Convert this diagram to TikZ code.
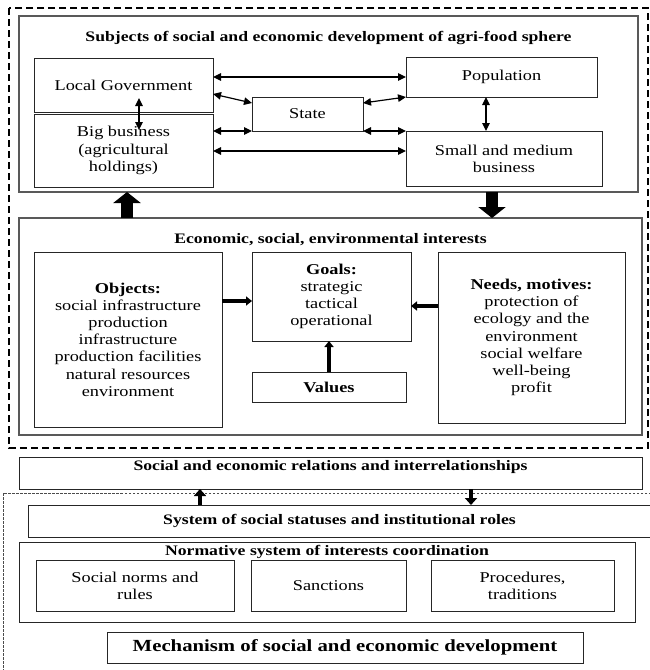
\documentclass[tikz,border=0pt]{standalone}
\usepackage{fontspec}
\setmainfont{Liberation Serif}[FakeStretch=1.22]
\usetikzlibrary{arrows.meta}
\begin{document}
\begin{tikzpicture}[x=1pt,y=-1pt,
  box/.style={draw=black!85, line width=0.9pt, rectangle, inner sep=0pt, outer sep=0pt,
    align=center, font=\fontsize{15}{17.2}\selectfont},
  frame/.style={draw=black!65, line width=1.1pt, rectangle, inner sep=0pt, outer sep=0pt},
  ttl/.style={inner sep=0pt, font=\fontsize{14.5}{17}\selectfont\bfseries},
  dbl/.style={{Triangle[length=8pt,width=7.5pt]}-{Triangle[length=8pt,width=7.5pt]}, line width=1.2pt},
  thickarr/.style={-{Triangle[length=6pt,width=9pt]}, line width=3.5pt},
  midarr/.style={-{Triangle[length=7pt,width=12pt]}, line width=4.5pt},
  blockarr/.style={-{Triangle[length=11pt,width=27pt]}, line width=12pt},
  outerdash/.style={draw=black, line width=1.6pt, dash pattern=on 7pt off 4pt},
  thindash/.style={draw=black!70, line width=0.6pt, dash pattern=on 2.5pt off 1.5pt}
]
\useasboundingbox (0,0) rectangle (650,670);
\clip (0,0) rectangle (650,670);

% outer dashed boundaries
\draw[outerdash] (9,8) rectangle (648,448);
\draw[thindash] (3,493) rectangle (664,684);

% upper block: subjects
\node[frame, minimum width=619pt, minimum height=176pt] (sub) at (328.5,104) {};
\node[ttl] (subt) at (328.5,38) {Subjects of social and economic development of agri-food sphere};
\node[box, minimum width=179pt, minimum height=54pt] (lg) at (123.5,85) {Local Government};
\node[box, minimum width=179pt, minimum height=73pt] (bb) at (123.5,150.5) {Big business\\(agricultural\\holdings)};
\node[box, minimum width=111pt, minimum height=34pt] (state) at (307.5,114) {State};
\node[box, minimum width=191pt, minimum height=40pt] (pop) at (501.5,77) {Population};
\node[box, minimum width=196pt, minimum height=55pt] (smb) at (504,158.5) {Small and medium\\business};

% interests block
\node[frame, minimum width=623pt, minimum height=217pt] (int) at (330.5,326.5) {};
\node[ttl] (intt) at (330.5,240) {Economic, social, environmental interests};
\node[box, minimum width=188pt, minimum height=175pt] (obj) at (128,339.5)
  {\textbf{Objects:}\\social infrastructure\\production\\infrastructure\\production facilities\\natural resources\\environment};
\node[box, minimum width=159pt, minimum height=89pt] (goals) at (331.5,296.5)
  {\textbf{Goals:}\\strategic\\tactical\\operational};
\node[box, minimum width=154pt, minimum height=30pt] (values) at (329,387) {\textbf{Values}};
\node[box, minimum width=187pt, minimum height=171pt] (needs) at (531.5,337.5)
  {\textbf{Needs, motives:}\\protection of\\ecology and the\\environment\\social welfare\\well-being\\profit};

% relations and mechanism
\node[box, minimum width=623pt, minimum height=32pt] (rel) at (330.5,473) {};
\node[ttl] (relt) at (330.5,467) {Social and economic relations and interrelationships};
\node[box, minimum width=623pt, minimum height=32pt] (stat) at (339.5,521) {};
\node[ttl] (statt) at (339.5,521) {System of social statuses and institutional roles};
\node[box, minimum width=616pt, minimum height=80pt] (norm) at (327,582) {};
\node[ttl] (normt) at (327,552) {Normative system of interests coordination};
\node[box, minimum width=198pt, minimum height=51pt] (snr) at (135,585.5) {Social norms and\\rules};
\node[box, minimum width=155pt, minimum height=51pt] (sanc) at (328.5,585.5) {Sanctions};
\node[box, minimum width=183pt, minimum height=51pt] (proc) at (522.5,585.5) {Procedures,\\traditions};
\node[box, minimum width=476pt, minimum height=31pt, font=\fontsize{17}{19}\selectfont\bfseries] (mech) at (345,647.5)
  {Mechanism of social and economic development};

% reference rows and columns for connectors
\coordinate (r77) at (0,77);
\coordinate (r94) at (0,94);
\coordinate (r103) at (0,103);
\coordinate (r151) at (0,151);
\coordinate (r301) at (0,301);
\coordinate (r306) at (0,306);
\coordinate (c127) at (127,0);
\coordinate (c492) at (492,0);
\coordinate (c486) at (486,0);
\coordinate (c200) at (200,0);
\coordinate (c471) at (471,0);
\coordinate (lgv1) at (139,98);
\coordinate (lgv2) at (139,130);

% links between subjects
\draw[dbl] (lg.east |- r77) -- (pop.west |- r77);
\draw[dbl] (lg.east |- r94) -- (state.west |- r103);
\draw[dbl] (state.east |- r103) -- (pop.south west);
\draw[dbl] (bb.east |- state.south) -- (state.south west);
\draw[dbl] (state.south east) -- (smb.north west);
\draw[dbl] (bb.east |- r151) -- (smb.west |- r151);
\draw[dbl] (lgv1) -- (lgv2);
\draw[dbl] (pop.south -| c486) -- (smb.north -| c486);

% block arrows between subjects and interests
\draw[blockarr] (int.north -| c127) -- (sub.south -| c127);
\draw[blockarr] (sub.south -| c492) -- (int.north -| c492);

% arrows into goals
\draw[thickarr] (obj.east |- r301) -- (goals.west |- r301);
\draw[thickarr] (needs.west |- r306) -- (goals.east |- r306);
\draw[thickarr] (values.north) -- (goals.south -| values.north);

% arrows between relations and statuses
\draw[midarr] (stat.north -| c200) -- (rel.south -| c200);
\draw[midarr] (rel.south -| c471) -- (stat.north -| c471);
\end{tikzpicture}
\end{document}
